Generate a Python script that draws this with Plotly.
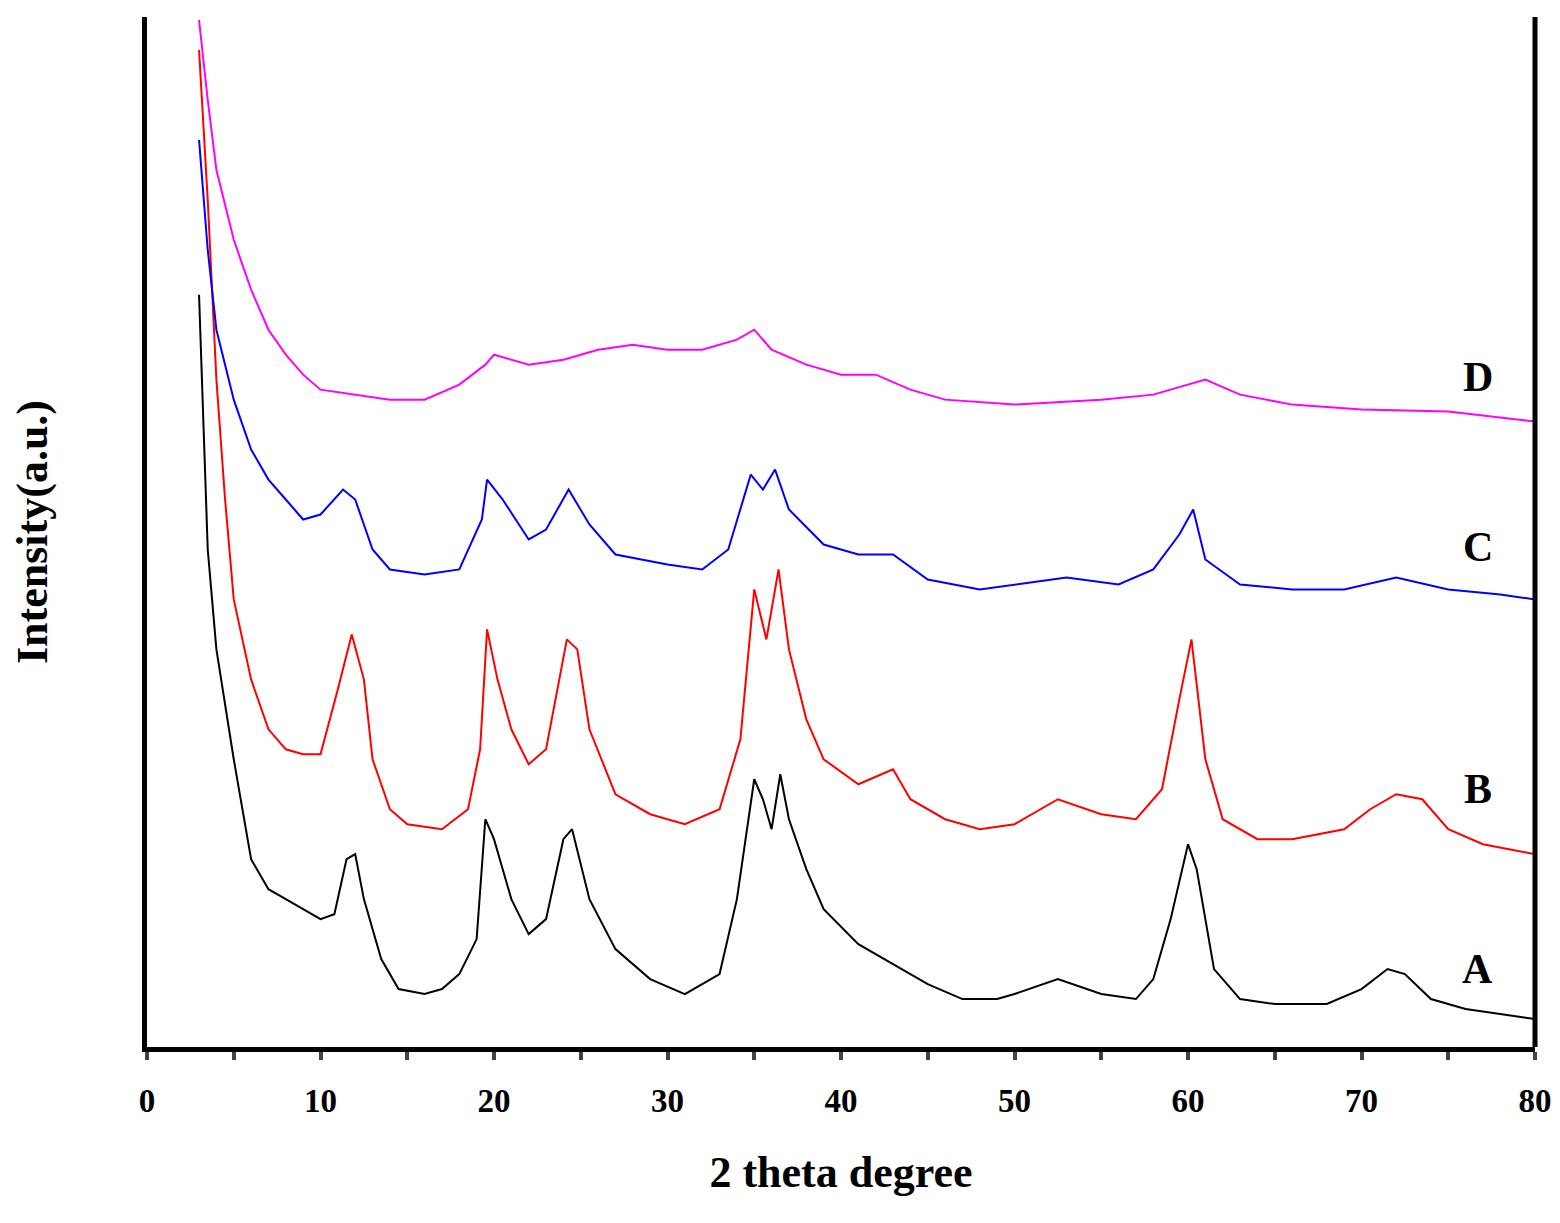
import plotly.graph_objects as go

xa=[3,3.5,4,5,6,7,8,9,10,10.8,11.5,12,12.5,13.5,14.5,16,17,18,19,19.5,20,21,22,23,24,24.5,25.5,27,29,31,33,34,35,35.5,36,36.5,37,38,39,41,43,45,47,49,50,52.5,55,57,58,59,60,60.5,61.5,63,65,68,70,71.5,72.5,74,76,78,80]
ya=[753,498,398,288,188,158,148,138,128,133,188,193,148,88,58,53,58,73,108,228,208,148,113,128,208,218,148,98,68,53,73,148,268,248,218,273,228,178,138,103,83,63,48,48,53,68,53,48,68,128,203,178,78,48,43,43,58,78,73,48,38,33,28]
xb=[3,3.5,4,4.5,5,6,7,8,9,10,11,11.8,12.5,13,14,15,17,18.5,19.2,19.6,20.2,21,22,23,24.2,24.8,25.5,27,29,31,33,34.2,35,35.7,36.4,37,38,39,41,43,44,46,48,50,52.5,55,57,58.5,59.5,60.2,61,62,64,66,69,70.5,72,73.5,75,77,80]
yb=[998,848,668,548,448,368,318,298,293,293,358,413,368,288,238,223,218,238,298,418,368,318,283,298,408,398,318,253,233,223,238,308,458,408,478,398,328,288,263,278,248,228,218,223,248,233,228,258,348,408,288,228,208,208,218,238,253,248,218,203,193]
xc=[3,3.5,4,5,6,7,8,9,10,11.3,12,13,14,16,18,19.3,19.6,20.5,22,23,24.3,25.5,27,30,32,33.5,34.8,35.5,36.2,37,39,41,43,45,48,50,53,56,58,59.5,60.3,61,63,66,69,72,75,78,80]
yc=[908,798,718,648,598,568,548,528,533,558,548,498,478,473,478,528,568,548,508,518,558,523,493,483,478,498,573,558,578,538,503,493,493,468,458,463,470,463,478,513,538,488,463,458,458,470,458,453,448]
xd=[3,3.5,4,5,6,7,8,9,10,12,14,16,18,19.5,20,22,24,26,28,30,32,34,35,36,38,40,42,44,46,50,55,58,60,61,63,66,70,75,80]
yd=[1028,948,878,808,758,718,693,673,658,653,648,648,663,683,693,683,688,698,703,698,698,708,718,698,683,673,673,658,648,643,648,653,663,668,653,643,638,636,626]
labels=["A","B","C","D"]
label_y=[78,258,500,671]

fig=go.Figure()
for x,y,c in [(xa,ya,"black"),(xb,yb,"red"),(xc,yc,"blue"),(xd,yd,"magenta")]:
    fig.add_trace(go.Scatter(x=x,y=y,mode="lines",line=dict(color=c,width=2),showlegend=False))
for l,yy in zip(labels,label_y):
    fig.add_annotation(x=76.7,y=yy,text="<b>%s</b>"%l,showarrow=False,font=dict(size=42,family="Liberation Serif",color="black"))
font=dict(family="Liberation Serif",size=33,color="black")
fig.update_layout(width=1560,height=1223,margin=dict(l=139,r=33,t=9,b=184),
    plot_bgcolor="white",paper_bgcolor="white",font=font,
    xaxis=dict(range=[0,80],tickvals=[0,10,20,30,40,50,60,70,80],ticktext=["<b>%d</b>"%v for v in range(0,81,10)],
        ticks="outside",ticklen=8,tickwidth=4,showline=True,linewidth=5,linecolor="black",showgrid=False,zeroline=False,
        ticklabelstandoff=12,
        minor=dict(tickvals=[5,15,25,35,45,55,65,75],ticks="outside",ticklen=8,tickwidth=4),
        title=dict(text="<b>2 theta degree</b>",font=dict(size=44,family="Liberation Serif"),standoff=40)),
    yaxis=dict(range=[0,1031],showticklabels=False,ticks="",showline=True,linewidth=5,linecolor="black",showgrid=False,zeroline=False,
        title=dict(text="<b>Intensity(a.u.)</b>",font=dict(size=44,family="Liberation Serif"),standoff=85)))
fig.add_shape(type="line",xref="paper",yref="paper",x0=1,x1=1,y0=0,y1=1,line=dict(color="black",width=5))
fig.write_html("out.html")
